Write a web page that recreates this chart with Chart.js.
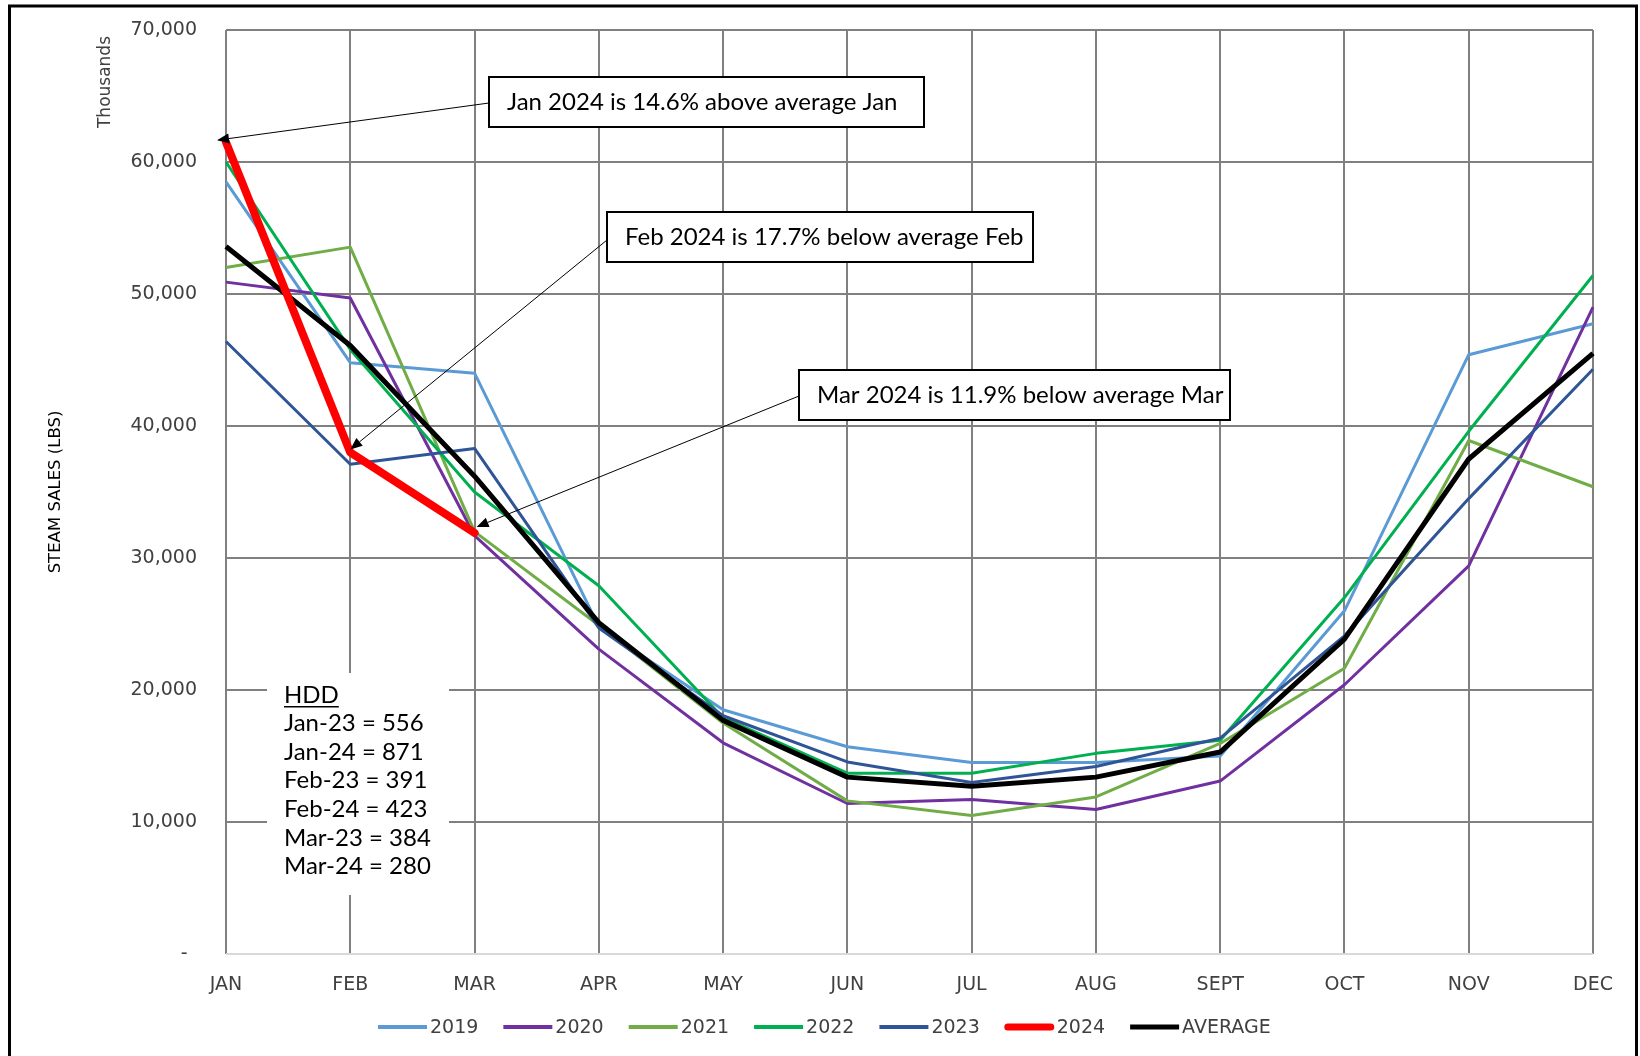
<!DOCTYPE html>
<html>
<head>
<meta charset="utf-8">
<script src="https://cdn.jsdelivr.net/npm/chart.js@4.4.1/dist/chart.umd.min.js"></script>
<style>
  html, body { margin: 0; padding: 0; background: #ffffff; }
  #wrap { width: 1640px; height: 1056px; position: relative; }
  canvas { display: block; }
</style>
</head>
<body>
<div id="wrap"><canvas id="c" width="1640" height="1056"></canvas></div>
<script>
// ---------------- DATA ----------------
const months = ['JAN','FEB','MAR','APR','MAY','JUN','JUL','AUG','SEPT','OCT','NOV','DEC'];
const seriesNames = ['2019','2020','2021','2022','2023','2024','AVERAGE'];
const s2019 = [58500, 44800, 44000, 24800, 18500, 15700, 14500, 14500, 15000, 26000, 45400, 47750];
const s2020 = [50900, 49700, 31700, 23100, 16000, 11400, 11700, 10950, 13100, 20400, 29400, 49000];
const s2021 = [52000, 53550, 32000, 24900, 17500, 11600, 10500, 11900, 15950, 21650, 38900, 35400];
const s2022 = [60000, 45800, 35000, 27900, 17900, 13700, 13700, 15200, 16200, 27000, 39600, 51400];
const s2023 = [46400, 37100, 38300, 24700, 18050, 14550, 13000, 14200, 16350, 24100, 34500, 44300];
const s2024 = [61500, 38000, 31900];
const sAverage = [53600, 46100, 36200, 25100, 17700, 13400, 12700, 13400, 15300, 23850, 37500, 45500];
const yTicks = [0, 10000, 20000, 30000, 40000, 50000, 60000, 70000];

const annotationTexts = [
  'Jan 2024 is 14.6% above average Jan',
  'Feb 2024 is 17.7% below average Feb',
  'Mar 2024 is 11.9% below average Mar'
];
const annotationMonthIndex = [0, 1, 2];
const hddTitle = 'HDD';
const hddLines = ['Jan-23 = 556','Jan-24 = 871','Feb-23 = 391','Feb-24 = 423','Mar-23 = 384','Mar-24 = 280'];

// ---------------- STYLE ----------------
const colors = ['#5B9BD5','#7030A0','#70AD47','#00B050','#2F5597','#FF0000','#000000'];
const lineWidths = [3, 3, 3, 3, 3, 8, 5];
const legendWidths = [4, 4, 4, 4, 4, 7, 5];
const drawOrder = [6, 5, 4, 3, 2, 0, 1];
const axisFont = 'DejaVu Sans';
const noteFont = 'Lato';
const textGray = '#404040';

// annotation box layout (pixels)
const boxes = [
  {x: 489, y: 77, w: 435, h: 50, tipDx: -9, tipDy: -2, from: 'left'},
  {x: 607, y: 212, w: 426, h: 50, tipDx: 0, tipDy: -3, from: 'leftLow'},
  {x: 799, y: 370, w: 431, h: 50, tipDx: 2, tipDy: -6, from: 'left'}
];

const allSeries = [s2019, s2020, s2021, s2022, s2023, s2024, sAverage];

const datasets = allSeries.map((d, i) => ({
  label: seriesNames[i],
  data: d,
  borderColor: colors[i],
  backgroundColor: colors[i],
  borderWidth: lineWidths[i],
  pointRadius: 0,
  pointHoverRadius: 0,
  tension: 0,
  fill: false,
  order: drawOrder[i],
  borderJoinStyle: 'round',
  borderCapStyle: i === 5 ? 'round' : 'butt',
  spanGaps: false
}));

function arrow(ctx, x1, y1, x2, y2) {
  const ang = Math.atan2(y2 - y1, x2 - x1);
  const L = 12, W = 5;
  const bx = x2 - L * Math.cos(ang), by = y2 - L * Math.sin(ang);
  ctx.save();
  ctx.strokeStyle = '#000';
  ctx.lineWidth = 1;
  ctx.beginPath();
  ctx.moveTo(x1, y1);
  ctx.lineTo(bx, by);
  ctx.stroke();
  ctx.fillStyle = '#000';
  ctx.beginPath();
  ctx.moveTo(x2, y2);
  ctx.lineTo(bx + W * Math.sin(ang), by - W * Math.cos(ang));
  ctx.lineTo(bx - W * Math.sin(ang), by + W * Math.cos(ang));
  ctx.closePath();
  ctx.fill();
  ctx.restore();
}

const decorPlugin = {
  id: 'decor',
  beforeDraw(chart) {
    const ctx = chart.ctx;
    ctx.save();
    ctx.fillStyle = '#ffffff';
    ctx.fillRect(0, 0, chart.width, chart.height);
    ctx.restore();
  },
  beforeDatasetsDraw(chart) {
    // HDD box (covers grid)
    const ctx = chart.ctx;
    ctx.save();
    ctx.fillStyle = '#ffffff';
    ctx.fillRect(267, 673, 182, 222);
    ctx.fillStyle = '#000000';
    ctx.font = '24px ' + noteFont;
    ctx.textAlign = 'left';
    ctx.textBaseline = 'middle';
    ctx.fillText(hddTitle, 284, 695);
    const tw = ctx.measureText(hddTitle).width;
    ctx.fillRect(284, 706, tw, 1.5);
    hddLines.forEach((t, i) => ctx.fillText(t, 284, 723.5 + i * 28.6));
    ctx.restore();
  },
  afterDatasetsDraw(chart) {
    const ctx = chart.ctx;
    const xs = chart.scales.x, ys = chart.scales.y;
    // annotations
    boxes.forEach((b, i) => {
      const mi = annotationMonthIndex[i];
      const px = xs.getPixelForValue(mi);
      const py = ys.getPixelForValue(s2024[mi]);
      const sx = b.x;
      const sy = b.from === 'leftLow' ? b.y + 28 : b.y + b.h / 2 + 1;
      arrow(ctx, sx, sy, px + b.tipDx, py + b.tipDy);
      ctx.save();
      ctx.fillStyle = '#ffffff';
      ctx.fillRect(b.x, b.y, b.w, b.h);
      ctx.strokeStyle = '#000000';
      ctx.lineWidth = 2;
      ctx.strokeRect(b.x, b.y, b.w, b.h);
      ctx.fillStyle = '#000000';
      ctx.font = '24px ' + noteFont;
      ctx.textAlign = 'left';
      ctx.textBaseline = 'middle';
      ctx.fillText(annotationTexts[i], b.x + 18, b.y + b.h / 2);
      ctx.restore();
    });
  },
  afterDraw(chart) {
    const ctx = chart.ctx;
    ctx.save();
    // "Thousands" label
    ctx.translate(106, 82);
    ctx.rotate(-Math.PI / 2);
    ctx.fillStyle = textGray;
    ctx.font = '17px ' + axisFont;
    ctx.textAlign = 'center';
    ctx.textBaseline = 'middle';
    ctx.fillText('Thousands', 0, 0);
    ctx.restore();

    // legend
    ctx.save();
    ctx.font = '19px ' + axisFont;
    ctx.textBaseline = 'middle';
    ctx.textAlign = 'left';
    const lineLen = 49, gapText = 3, gapItem = 25;
    const items = chart.data.datasets.map((ds, i) => ({
      label: ds.label, color: ds.borderColor, w: legendWidths[i], round: i === 5,
      tw: ctx.measureText(ds.label).width
    }));
    let x = 378;
    const y = 1027;
    items.forEach(it => {
      ctx.strokeStyle = it.color;
      ctx.lineWidth = it.w;
      ctx.lineCap = it.round ? 'round' : 'butt';
      ctx.beginPath();
      ctx.moveTo(x + (it.round ? 3 : 0), y);
      ctx.lineTo(x + lineLen - (it.round ? 3 : 0), y);
      ctx.stroke();
      ctx.fillStyle = textGray;
      ctx.fillText(it.label, x + lineLen + gapText, y + 1);
      x += lineLen + gapText + it.tw + gapItem;
    });
    ctx.restore();

    // outer border
    ctx.save();
    ctx.strokeStyle = '#000000';
    ctx.lineWidth = 3;
    ctx.strokeRect(9.5, 6, 1627, 1100);
    ctx.restore();
  }
};

const chart = new Chart(document.getElementById('c'), {
  type: 'line',
  data: { labels: months, datasets },
  options: {
    responsive: false,
    animation: false,
    devicePixelRatio: 1,
    layout: { padding: { left: 0, top: 30, right: 47, bottom: 0 } },
    plugins: {
      legend: { display: false },
      tooltip: { enabled: false },
      title: { display: false }
    },
    scales: {
      x: {
        type: 'category',
        offset: false,
        grid: { color: '#808080', lineWidth: 2, drawTicks: false },
        border: { display: false },
        ticks: {
          color: textGray,
          font: { family: axisFont, size: 19 },
          padding: 20,
          maxRotation: 0,
          autoSkip: false
        },
        afterFit(scale) { scale.height = 102; scale.paddingLeft = 0; scale.paddingRight = 0; }
      },
      y: {
        min: 0,
        max: 70000,
        afterBuildTicks(scale) { scale.ticks = yTicks.map(v => ({ value: v })); },
        grid: {
          color: ctx => (ctx.tick && ctx.tick.value === 0 ? '#D9D9D9' : '#808080'),
          lineWidth: 2,
          drawTicks: false
        },
        border: { display: false },
        ticks: {
          color: textGray,
          font: { family: axisFont, size: 19 },
          padding: 29,
          callback: v => (v === 0 ? '-\u2002' : v.toLocaleString('en-US'))
        },
        title: {
          display: true,
          text: 'STEAM SALES (LBS)',
          color: '#000000',
          font: { family: axisFont, size: 16.5 },
          padding: { top: 46, bottom: 0 }
        },
        afterFit(scale) { scale.width = 226; scale.paddingTop = 0; scale.paddingBottom = 0; }
      }
    }
  },
  plugins: [decorPlugin]
});
</script>
</body>
</html>
